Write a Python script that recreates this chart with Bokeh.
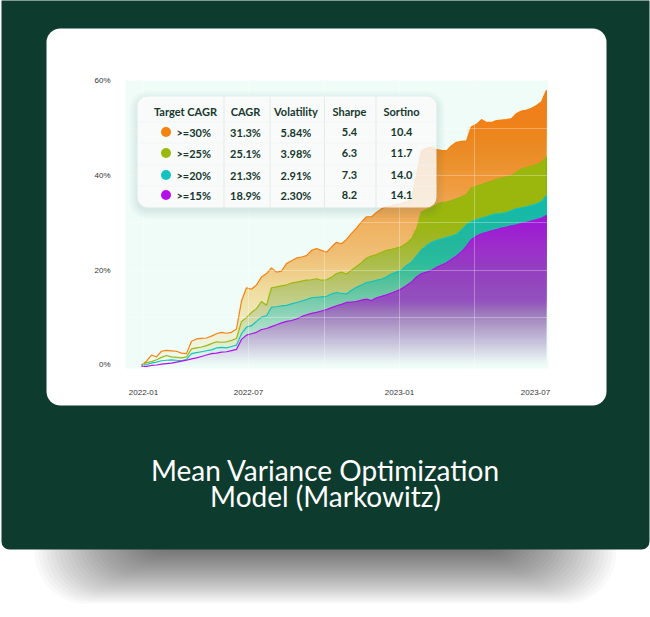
import numpy as np
from bokeh.plotting import figure
from bokeh.models import BoxAnnotation, Label, FixedTicker, Range1d
from bokeh.embed import file_html
from bokeh.resources import INLINE

# ---------------- data ----------------
orange = [0.0, 0.8, 2.1, 1.7, 2.9, 3.1, 3.0, 2.9, 2.5, 2.4,
          5.0, 5.5, 5.6, 5.7, 6.1, 6.6, 6.9, 6.7, 6.9, 7.6,
          13.5, 16.3, 16.0, 16.9, 18.6, 19.3, 20.5, 19.6, 19.8, 21.4,
          22.0, 22.6, 22.8, 23.1, 24.2, 24.6, 24.2, 23.8, 24.9, 25.9,
          25.6, 26.5, 27.8, 28.9, 30.2, 31.3, 31.3, 32.2, 33.0, 33.4,
          33.6, 33.9, 34.1, 34.4, 35.0, 40.0, 45.2, 45.8, 46.0, 45.5,
          45.3, 45.2, 46.3, 47.0, 47.2, 47.3, 50.3, 50.8, 51.8, 51.2,
          51.2, 51.6, 51.7, 51.8, 52.0, 53.1, 53.6, 53.8, 54.2, 54.8,
          55.6, 58.0]
green = [0.0, 0.5, 0.7, 1.1, 1.6, 2.0, 1.7, 1.6, 1.5, 1.7,
         3.4, 3.6, 3.8, 4.1, 4.5, 4.9, 4.8, 4.9, 5.2, 5.6,
         9.2, 10.0, 11.1, 11.9, 13.4, 12.6, 16.3, 16.5, 16.7, 16.9,
         17.3, 17.5, 17.7, 17.9, 18.0, 18.2, 17.9, 18.0, 18.5, 19.3,
         19.6, 19.2, 20.0, 20.8, 21.6, 22.6, 23.0, 23.3, 23.8, 24.2,
         24.4, 24.7, 25.0, 25.7, 26.6, 28.6, 32.3, 32.8, 33.2, 33.9,
         34.3, 34.4, 34.7, 35.1, 35.5, 36.0, 37.4, 37.8, 38.1, 38.5,
         38.8, 39.2, 39.5, 39.7, 40.0, 40.7, 41.4, 41.7, 42.0, 42.3,
         42.8, 44.0]
cyan = [0.0, 0.1, 0.4, 0.6, 0.9, 1.0, 1.1, 1.0, 0.9, 1.2,
        2.4, 2.6, 2.8, 3.0, 3.2, 3.6, 3.7, 3.6, 3.9, 4.2,
        6.6, 8.0, 8.3, 9.2, 10.1, 10.4, 12.2, 12.3, 12.5, 12.6,
        12.9, 13.2, 13.5, 13.8, 14.2, 14.3, 14.4, 14.5, 15.0, 15.3,
        15.1, 15.0, 15.8, 16.4, 16.9, 17.4, 17.6, 17.9, 18.1, 18.6,
        19.2, 19.6, 20.0, 21.0, 21.7, 23.0, 24.3, 25.2, 25.9, 26.3,
        26.6, 26.9, 27.2, 27.6, 28.5, 29.6, 30.3, 30.7, 31.0, 31.3,
        31.7, 31.9, 32.0, 32.2, 32.6, 33.0, 33.2, 33.4, 33.7, 34.0,
        34.5, 35.8]
purple = [-0.3, -0.3, -0.1, 0.0, 0.2, 0.3, 0.4, 0.6, 0.8, 1.0,
          1.3, 1.5, 1.8, 2.1, 2.4, 2.5, 2.7, 2.8, 3.05, 3.3,
          5.4, 6.3, 6.6, 6.9, 7.5, 7.7, 8.1, 8.5, 8.9, 9.2,
          9.4, 9.7, 10.2, 10.6, 10.9, 11.1, 11.4, 11.7, 12.1, 12.5,
          12.8, 13.2, 13.3, 13.4, 13.7, 13.9, 13.6, 14.2, 14.5, 14.8,
          15.2, 15.6, 16.1, 16.8, 17.5, 18.6, 19.3, 19.6, 20.0, 20.6,
          21.1, 21.6, 22.3, 23.0, 23.9, 25.1, 26.5, 27.2, 27.7, 28.0,
          28.3, 28.6, 28.9, 29.1, 29.4, 29.6, 29.9, 30.1, 30.4, 30.7,
          31.0, 31.6]

x_tick_pos = [0.4, 21.4, 51.6, 78.8]
x_tick_labels = ["2022-01", "2022-07", "2023-01", "2023-07"]
y_ticks = [0, 20, 40, 60]
y_tick_labels = ["0%", "20%", "40%", "60%"]

table_cols = ["Target CAGR", "CAGR", "Volatility", "Sharpe", "Sortino"]
targets = [">=30%", ">=25%", ">=20%", ">=15%"]
cagr = ["31.3%", "25.1%", "21.3%", "18.9%"]
volatility = ["5.84%", "3.98%", "2.91%", "2.30%"]
sharpe = ["5.4", "6.3", "7.3", "8.2"]
sortino = ["10.4", "11.7", "14.0", "14.1"]
series_colors = ["#f5820f", "#9bb80f", "#14c3c0", "#b40fe8"]

title_lines = ["Mean Variance Optimization", "Model (Markowitz)"]

# ---------------- layout constants ----------------
W, H = 650, 617
FL, FR, FT, FB = 125, 548, 80, 368
DARK = "#0d3b2e"
TXT = "#16372d"
ABS = {"position": "absolute", "left": "0px", "top": "0px"}

n = len(orange)
xs = np.arange(n)
O, G, C, P = (np.array(s, dtype=float) for s in (orange, green, cyan, purple))

# ---------- background card figure (frame covers the whole canvas) ----------
bg = figure(width=W, height=H, output_backend="svg", toolbar_location=None,
            x_range=Range1d(0, W), y_range=Range1d(H, 0),
            x_axis_type=None, y_axis_type=None,
            min_border=0, min_border_left=0, min_border_right=0,
            min_border_top=0, min_border_bottom=0,
            background_fill_color=None, border_fill_color=None,
            outline_line_color=None)
bg.grid.visible = False
bg.styles = ABS

# ---------- chart figure ----------
p = figure(width=W, height=H, output_backend="svg", toolbar_location=None,
           x_range=Range1d(-3.2, 81.4), y_range=Range1d(-0.74, 60.06),
           min_border_left=FL, min_border_right=W - FR,
           min_border_top=FT, min_border_bottom=H - FB,
           background_fill_color="#effcf8", border_fill_color=None,
           outline_line_color=None)
p.styles = ABS


def cbox(fig, l, r, t, b, color, alpha=1.0, radius=0, level="annotation"):
    bx = BoxAnnotation(left=l, right=r, top=t, bottom=b,
                       left_units="canvas", right_units="canvas",
                       top_units="canvas", bottom_units="canvas",
                       fill_color=color, fill_alpha=alpha, line_color=None,
                       border_radius=radius, level=level)
    fig.add_layout(bx)


def clabel(fig, x, y, text, size, color, font="Lato", style="bold",
           baseline="middle", level="overlay"):
    lb = Label(x=x, y=y, x_units="canvas", y_units="canvas", text=text,
               text_align="center", text_baseline=baseline,
               text_font=font, text_font_size=size, text_color=color,
               text_font_style=style, level=level)
    fig.add_layout(lb)


# soft shadow under the card
for k in range(30):
    cbox(bg, 150 - 4 * k, 500 + 4 * k, 500, 548 + 1.9 * k, "#000000", 0.025, 30 + k)
cbox(bg, 1, 649, -10, 549, DARK, 1.0, 8)
cbox(bg, 46, 606, 28, 405, "#ffffff", 1.0, 14)
clabel(bg, 325, 469, title_lines[0], "28px", "#ffffff", style="normal", baseline="alphabetic")
clabel(bg, 325, 495, title_lines[1], "28px", "#ffffff", style="normal", baseline="alphabetic")


# ---------------- gradient filled areas ----------------
def hex2rgb(h):
    h = h.lstrip("#")
    return tuple(int(h[i:i + 2], 16) for i in (0, 2, 4))


def mix(c0, c1, t):
    a, b = hex2rgb(c0), hex2rgb(c1)
    return "#%02x%02x%02x" % tuple(int(round(a[i] + (b[i] - a[i]) * t)) for i in range(3))


# (lower, upper, colour low, colour high, opacity scale, colour ramp start/end)
regions = [
    (np.zeros(n) + min(P.min(), 0.0), P, "#8a5fb0", "#b00fe6", 14.0, 8.0, 28.0),
    (P, C, "#38bb82", "#14c0bb", 22.0, 12.0, 30.0),
    (C, G, "#a8b01a", "#9ab80f", 30.0, 0.0, 30.0),
    (G, O, "#f5841f", "#f3831a", 52.0, 0.0, 52.0),
]
CAP = 0.97
step = 0.5
bands = np.arange(-1.0, 61.0, step)
for lo, hi, c0, c1, sc, u0, u1 in regions:
    prev = 0.0
    for b in bands:
        mid = b + step / 2
        y1 = np.maximum(lo, b)
        y2 = np.maximum(hi, b)
        if np.all(y2 - y1 <= 0):
            break
        T = min(CAP, max(0.0, mid / sc))
        if T >= CAP and prev >= CAP - 1e-6:
            a = 0.07
        elif T <= prev + 1e-6:
            continue
        else:
            a = 1 - (1 - T) / (1 - prev)
        prev = 1 - (1 - prev) * (1 - a)
        u = min(1.0, max(0.0, (mid - u0) / (u1 - u0)))
        p.varea(x=xs, y1=y1, y2=y2, fill_color=mix(c0, c1, u), fill_alpha=a)

for s, col in zip((O, G, C, P), series_colors):
    p.line(xs, s, line_color=col, line_width=1.2)

# ---------------- axes / grid ----------------
p.xaxis.ticker = FixedTicker(ticks=x_tick_pos)
p.xaxis.major_label_overrides = dict(zip(x_tick_pos, x_tick_labels))
p.yaxis.ticker = FixedTicker(ticks=y_ticks)
p.yaxis.major_label_overrides = dict(zip(y_ticks, y_tick_labels))
for ax, so in ((p.xaxis, 15), (p.yaxis, 9)):
    ax.axis_line_color = None
    ax.major_tick_line_color = None
    ax.minor_tick_line_color = None
    ax.major_label_text_font = "Liberation Sans"
    ax.major_label_text_font_size = "8px"
    ax.major_label_text_color = "#333333"
    ax.major_label_standoff = so

p.xgrid.ticker = FixedTicker(ticks=[0.4, 21.4, 36.5, 51.6, 66.6])
p.ygrid.ticker = FixedTicker(ticks=[10, 20, 30, 40, 50])
for g in (p.xgrid, p.ygrid):
    g.grid_line_color = "#ffffff"
    g.grid_line_alpha = 0.3
    g.grid_line_width = 1
    g.level = "guide"

# ---------------- table ----------------
TL, TR, TT, TB = 137, 436, 96, 207
for k in range(5):
    cbox(p, TL - 2 * k, TR + 2 * k, TT - 2 * k + 3, TB + 2 * k + 3, "#1b4d40", 0.025, 10 + 2 * k)
cbox(p, TL, TR, TT, TB, "#ffffff", 0.82, 10)
for sx in (223, 269, 323.5, 375):
    cbox(p, sx, sx + 1, TT, TB, "#e2ebe8", 1.0, 0, level="overlay")
for sy in (121, 142, 164, 185):
    cbox(p, TL, TR, sy, sy + 1, "#eef3f1", 0.7, 0, level="overlay")

col_x = [185, 245, 295.5, 349, 401]
head_y = 110.5
row_y = [131.5, 152.5, 174.5, 194.5]
for cx, t in zip(col_x, table_cols):
    clabel(p, cx, head_y, t, "11px", TXT)
for i, ry in enumerate(row_y):
    cbox(p, 160.5, 170.5, ry - 5, ry + 5, series_colors[i], 1.0, 5, level="overlay")
    clabel(p, 193.2, ry, targets[i], "11px", TXT)
    clabel(p, col_x[1], ry, cagr[i], "11px", TXT)
    clabel(p, col_x[2], ry, volatility[i], "11px", TXT)
    clabel(p, col_x[3], ry, sharpe[i], "11px", TXT)
    clabel(p, col_x[4], ry, sortino[i], "11px", TXT)

open("out.html", "w").write(file_html([bg, p], INLINE))
